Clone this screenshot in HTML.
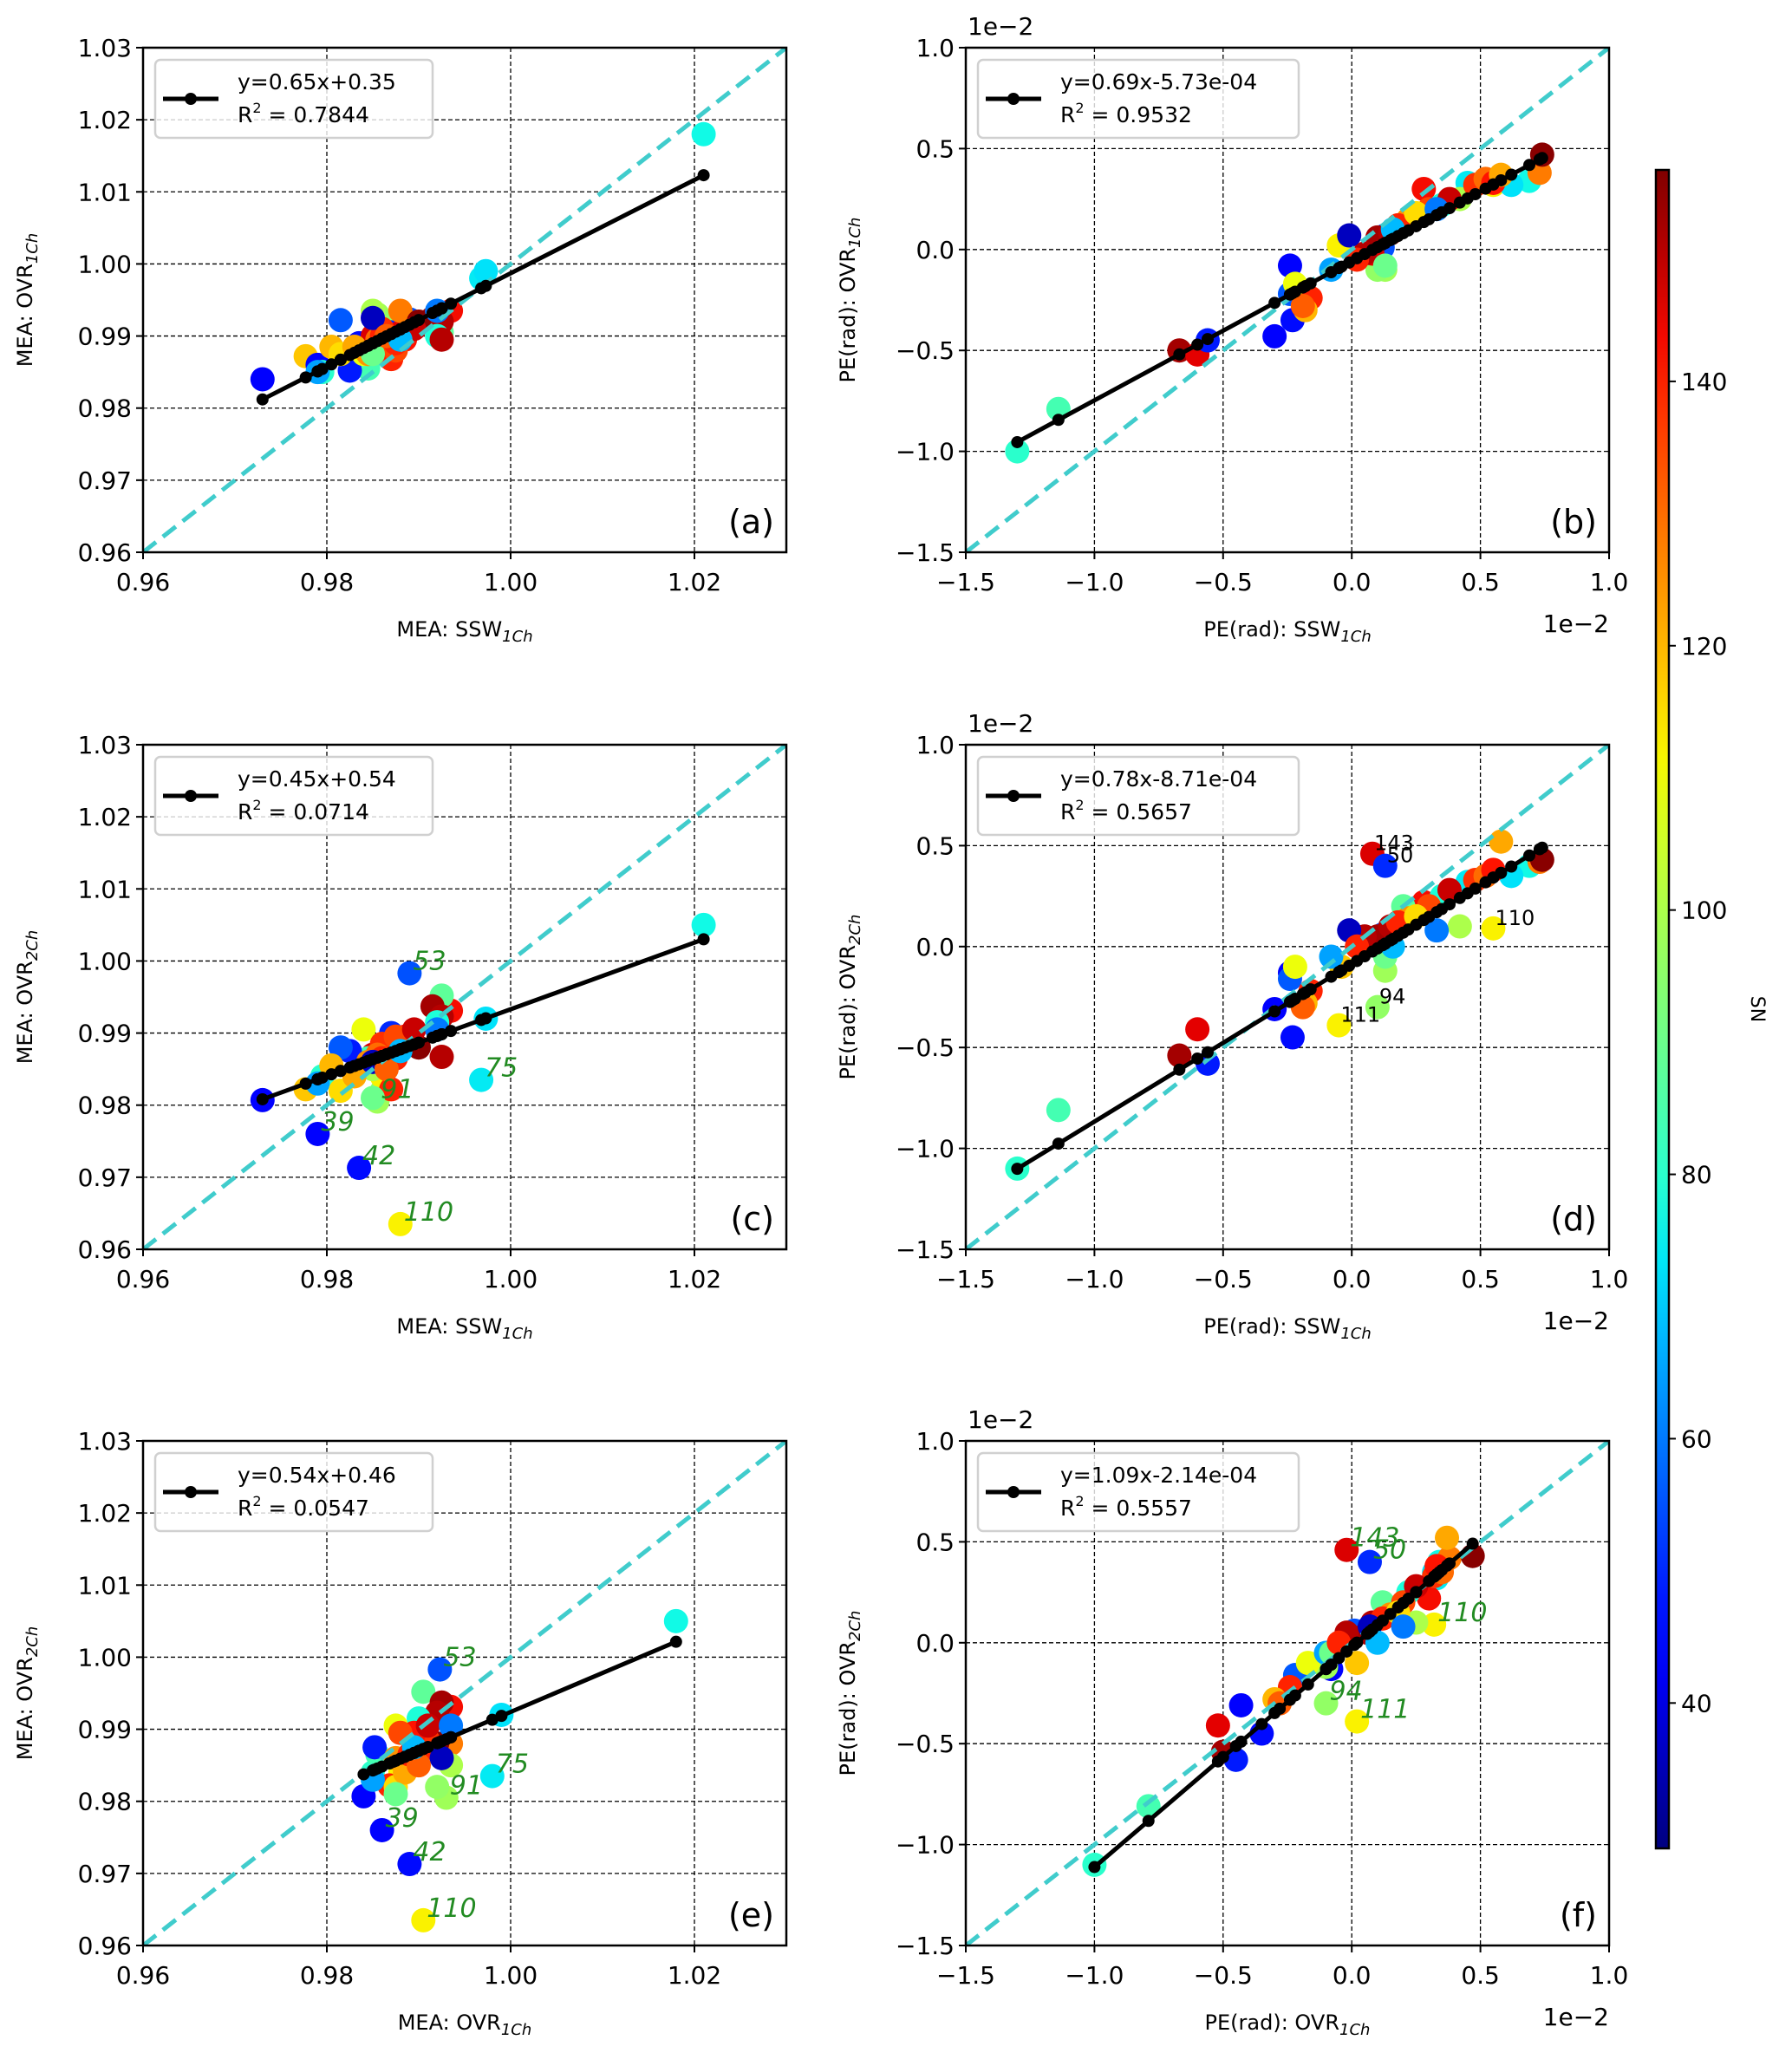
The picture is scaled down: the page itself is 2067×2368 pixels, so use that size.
<!DOCTYPE html>
<html><head><meta charset="utf-8"><style>
html,body{margin:0;padding:0;background:#fff;}
svg{display:block;font-family:"DejaVu Sans","Liberation Sans",sans-serif;}
</style></head><body>
<svg id="fig" width="2067" height="2368" viewBox="0 0 2067 2368" xmlns="http://www.w3.org/2000/svg">
<defs><linearGradient id="jetg" x1="0" y1="1" x2="0" y2="0"></linearGradient></defs>
</svg>
<script>
// Station data: SN, MEA SSW1Ch, MEA OVR1Ch, MEA OVR2Ch, PE SSW1Ch, PE OVR1Ch, PE OVR2Ch (PE in 1e-2 units)
const stationSN = [76,44,118,45,46,112,55,74,98,96,146,50,112,80,84,152,145,48,56,73,143,88,140,152,150,78,110,150,120,128,155,100,138,130,142,135,125,140,65,115,148,122,90,60,36,140,132,68];
const meaSSW  = [1.021,0.973,0.9777,0.979,0.9835,0.988,0.989,0.9968,0.9855,0.986,0.985,0.987,0.986,0.9795,0.9845,0.9865,0.988,0.9825,0.9815,0.9973,0.9935,0.9925,0.987,0.9915,0.9925,0.992,0.984,0.9925,0.9805,0.988,0.990,0.985,0.986,0.9855,0.9885,0.9875,0.9845,0.986,0.979,0.9815,0.9895,0.983,0.985,0.992,0.985,0.9875,0.9865,0.988];
const meaOVR1 = [1.018,0.984,0.9872,0.986,0.989,0.9905,0.9923,0.998,0.993,0.992,0.990,0.9905,0.988,0.985,0.9855,0.9895,0.9905,0.9852,0.9922,0.999,0.9935,0.9905,0.9868,0.9925,0.992,0.990,0.9875,0.9895,0.9885,0.9935,0.992,0.9935,0.991,0.9895,0.9895,0.988,0.9875,0.990,0.985,0.9875,0.991,0.9885,0.9875,0.9935,0.9925,0.989,0.990,0.9895];
const meaOVR2 = [1.005,0.9807,0.9822,0.976,0.9713,0.9635,0.9983,0.9835,0.9805,0.982,0.987,0.990,0.984,0.984,0.9865,0.9868,0.9885,0.9875,0.988,0.992,0.9931,0.9952,0.9822,0.9937,0.9923,0.9915,0.9905,0.9867,0.9855,0.988,0.988,0.985,0.9885,0.987,0.9895,0.9895,0.986,0.9865,0.983,0.982,0.9905,0.984,0.981,0.9905,0.986,0.9865,0.985,0.9875];
const peSSW   = [0.69,-0.30,-0.04,-0.24,-0.23,0.55,0.12,0.45,0.13,0.10,0.08,0.13,-0.05,-1.30,-1.14,-0.67,-0.60,-0.56,-0.24,0.62,0.28,0.20,-0.16,0.10,0.15,0.35,-0.22,0.05,-0.18,0.73,0.74,0.42,0.48,0.52,0.55,0.30,0.22,0.18,-0.08,0.25,0.38,0.58,0.13,0.33,-0.01,0.02,-0.19,0.16];
const peOVR1  = [0.34,-0.43,0.02,-0.08,-0.35,0.32,0.01,0.33,-0.10,-0.10,-0.02,0.07,0.02,-1.00,-0.79,-0.50,-0.52,-0.45,-0.22,0.32,0.30,0.12,-0.24,0.06,0.08,0.22,-0.17,-0.02,-0.30,0.38,0.47,0.25,0.32,0.35,0.33,0.20,0.15,0.12,-0.10,0.18,0.25,0.37,-0.08,0.20,0.07,-0.05,-0.28,0.10];
const peOVR2  = [0.40,-0.31,-0.10,-0.13,-0.45,0.09,0.06,0.32,-0.12,-0.30,0.46,0.40,-0.39,-1.10,-0.81,-0.54,-0.41,-0.58,-0.16,0.35,0.22,0.20,-0.22,0.05,0.10,0.25,-0.10,0.05,-0.28,0.42,0.43,0.10,0.33,0.35,0.38,0.20,0.14,0.12,-0.05,0.15,0.28,0.52,-0.05,0.08,0.08,0.00,-0.30,0.00];
const stationIdx = {s53:6,s75:7,s91:8,s39:3,s42:4,s110:5,s143:10,s50:11,s94:9,s111:12};
// Fit parameters per panel a-f
const fitSlopes     = [0.648,0.69,0.4625,0.78,0.541,1.09];
const fitIntercepts = [0.3507,-0.0573,0.5308,-0.0871,0.4514,-0.0214];
const fitEqText = ["y=0.65x+0.35","y=0.69x-5.73e-04","y=0.45x+0.54","y=0.78x-8.71e-04","y=0.54x+0.46","y=1.09x-2.14e-04"];
const fitR2Text = ["0.7844","0.9532","0.0714","0.5657","0.0547","0.5557"];
const meaTicksX = [0.96,0.98,1.00,1.02];
const meaTicksY = [0.96,0.97,0.98,0.99,1.00,1.01,1.02,1.03];
const peTicks = [-1.5,-1.0,-0.5,0.0,0.5,1.0];
const cbTicks = [40,60,80,100,120,140];
const snMin = 29, snMax = 156;

const NS="http://www.w3.org/2000/svg";
const svg=document.getElementById('fig');
function mk(tag,attrs,parent){const e=document.createElementNS(NS,tag);for(const k in attrs)e.setAttribute(k,attrs[k]);(parent||svg).appendChild(e);return e;}
function jet(v){
  const t=Math.max(0,Math.min(1,(v-snMin)/(snMax-snMin)));
  function pw(pts){for(let i=1;i<pts.length;i++){if(t<=pts[i][0]){const a=pts[i-1],b=pts[i];return a[1]+(b[1]-a[1])*(t-a[0])/(b[0]-a[0]);}}return pts[pts.length-1][1];}
  const r=pw([[0,0],[0.35,0],[0.66,1],[0.89,1],[1,0.5]]);
  const g=pw([[0,0],[0.125,0],[0.375,1],[0.64,1],[0.91,0],[1,0]]);
  const b=pw([[0,0.5],[0.11,1],[0.34,1],[0.65,0],[1,0]]);
  return `rgb(${Math.round(r*255)},${Math.round(g*255)},${Math.round(b*255)})`;
}
function fmtPE(v){return (v<0?'\u2212':'')+Math.abs(v).toFixed(1);}

const W=742,H=582;
const panels=[
 {id:'a',L:165,T:55,type:'mea',xs:meaSSW,ys:meaOVR1,xl:['MEA: SSW','1Ch'],yl:['MEA: OVR','1Ch'],ann:null},
 {id:'b',L:1114,T:55,type:'pe',xs:peSSW,ys:peOVR1,xl:['PE(rad): SSW','1Ch'],yl:['PE(rad): OVR','1Ch'],ann:null},
 {id:'c',L:165,T:859,type:'mea',xs:meaSSW,ys:meaOVR2,xl:['MEA: SSW','1Ch'],yl:['MEA: OVR','2Ch'],ann:{style:'green',keys:[['53','s53'],['75','s75'],['91','s91'],['39','s39'],['42','s42'],['110','s110']]}},
 {id:'d',L:1114,T:859,type:'pe',xs:peSSW,ys:peOVR2,xl:['PE(rad): SSW','1Ch'],yl:['PE(rad): OVR','2Ch'],ann:{style:'black',keys:[['143','s143'],['50','s50'],['110','s110'],['94','s94'],['111','s111']]}},
 {id:'e',L:165,T:1662,type:'mea',xs:meaOVR1,ys:meaOVR2,xl:['MEA: OVR','1Ch'],yl:['MEA: OVR','2Ch'],ann:{style:'green',keys:[['53','s53'],['75','s75'],['91','s91'],['39','s39'],['42','s42'],['110','s110']]}},
 {id:'f',L:1114,T:1662,type:'pe',xs:peOVR1,ys:peOVR2,xl:['PE(rad): OVR','1Ch'],yl:['PE(rad): OVR','2Ch'],ann:{style:'green',keys:[['143','s143'],['50','s50'],['110','s110'],['94','s94'],['111','s111']]}}
];

panels.forEach((p,pi)=>{
  const dom = p.type==='mea'?[0.96,1.03]:[-1.5,1.0];
  const sx=v=>p.L+(v-dom[0])/(dom[1]-dom[0])*W;
  const sy=v=>p.T+H-(v-dom[0])/(dom[1]-dom[0])*H;
  const g=mk('g',{});
  
  
  const cid='clip'+p.id;
  const cp=mk('clipPath',{id:cid},g);mk('rect',{x:p.L,y:p.T,width:W,height:H},cp);
  const tx=p.type==='mea'?meaTicksX:peTicks, ty=p.type==='mea'?meaTicksY:peTicks;
  tx.forEach(v=>{const l=mk('line',{x1:sx(v),x2:sx(v),y1:p.T,y2:p.T+H,stroke:'#000','stroke-width':1.3,'stroke-dasharray':'5,3'},g);
    
    });
  ty.forEach(v=>{const l=mk('line',{x1:p.L,x2:p.L+W,y1:sy(v),y2:sy(v),stroke:'#000','stroke-width':1.3,'stroke-dasharray':'5,3'},g);
    
    });
  const cg=mk('g',{'clip-path':`url(#${cid})`},g);
  p.xs.forEach((xv,i)=>{const c=mk('circle',{cx:sx(xv),cy:sy(p.ys[i]),r:14,fill:jet(stationSN[i])},cg);
    
    });
  const d=mk('line',{x1:sx(dom[0]),y1:sy(dom[0]),x2:sx(dom[1]),y2:sy(dom[1]),stroke:'#40cccc','stroke-width':5,'stroke-dasharray':'19,10'},cg);
  
  
  const m=fitSlopes[pi],b=fitIntercepts[pi];
  const xsSorted=p.xs.slice().sort((a,c)=>a-c);
  const pts=xsSorted.map(v=>sx(v)+','+sy(m*v+b)).join(' ');
  const fl=mk('polyline',{points:pts,fill:'none',stroke:'#000','stroke-width':5},cg);
  
  
  xsSorted.forEach(v=>{const c=mk('circle',{cx:sx(v),cy:sy(m*v+b),r:7,fill:'#000'},cg);
    
    });
  if(p.ann){p.ann.keys.forEach(k=>{const i=stationIdx[k[1]];
    const t=mk('text',{x:sx(p.xs[i])+(p.ann.style==='green'?4:2),y:sy(p.ys[i])-4,'font-size':p.ann.style==='green'?30:24,fill:p.ann.style==='green'?'#228b22':'#000','font-style':p.ann.style==='green'?'italic':'normal'},g);
    t.textContent=k[0];
    
    });}
  const fr=mk('rect',{x:p.L,y:p.T,width:W,height:H,fill:'none',stroke:'#000','stroke-width':2.5},g);
  
  
  tx.forEach(v=>{mk('line',{x1:sx(v),x2:sx(v),y1:p.T+H,y2:p.T+H+8,stroke:'#000','stroke-width':2},g);
    const t=mk('text',{x:sx(v),y:p.T+H+44,'font-size':28,'text-anchor':'middle'},g);
    t.textContent=p.type==='mea'?v.toFixed(2):fmtPE(v);
    
    });
  ty.forEach(v=>{mk('line',{x1:p.L-8,x2:p.L,y1:sy(v),y2:sy(v),stroke:'#000','stroke-width':2},g);
    const t=mk('text',{x:p.L-13,y:sy(v)+10,'font-size':28,'text-anchor':'end'},g);
    t.textContent=p.type==='mea'?v.toFixed(2):fmtPE(v);
    
    });
  if(p.type==='pe'){
    const o1=mk('text',{x:p.L+2,y:p.T-15,'font-size':28},g);o1.textContent='1e\u22122';
    
    
    const o2=mk('text',{x:p.L+W,y:p.T+H+92,'font-size':28,'text-anchor':'end'},g);o2.textContent='1e\u22122';
    
    
  }
  const xl=mk('text',{x:p.L+W/2,y:p.T+H+97,'font-size':24,'text-anchor':'middle'},g);
  xl.innerHTML=`${p.xl[0]}<tspan font-size="18" font-style="italic" dy="6">${p.xl[1]}</tspan>`;
  
  
  const yl=mk('text',{x:0,y:0,'font-size':24,'text-anchor':'middle',transform:`translate(${p.L-128},${p.T+H/2}) rotate(-90)`},g);
  yl.innerHTML=`${p.yl[0]}<tspan font-size="18" font-style="italic" dy="6">${p.yl[1]}</tspan>`;
  
  
  const pl=mk('text',{x:p.L+W-14,y:p.T+H-22,'font-size':38,'text-anchor':'end'},g);
  pl.textContent='('+p.id+')';
  
  
  const lw=p.type==='mea'?320:370;
  const lg=mk('g',{},g);
  
  
  mk('rect',{x:p.L+14,y:p.T+14,width:lw,height:90,rx:6,fill:'rgba(255,255,255,0.8)',stroke:'#d0d0d0','stroke-width':2.5},lg);
  mk('line',{x1:p.L+23,x2:p.L+87,y1:p.T+59,y2:p.T+59,stroke:'#000','stroke-width':5},lg);
  mk('circle',{cx:p.L+55,cy:p.T+59,r:7,fill:'#000'},lg);
  const l1=mk('text',{x:p.L+109,y:p.T+48,'font-size':25},lg);l1.textContent=fitEqText[pi];
  
  
  const l2=mk('text',{x:p.L+109,y:p.T+86,'font-size':25},lg);
  l2.innerHTML=`R<tspan font-size="16" dy="-11">2</tspan><tspan dy="11"> = ${fitR2Text[pi]}</tspan>`;
  
  
});

const grad=document.getElementById('jetg');
for(let i=0;i<=20;i++){const v=snMin+(snMax-snMin)*i/20;mk('stop',{offset:(i/20),'stop-color':jet(v)},grad);}
const cbT=196,cbB=2132,cbL=1910,cbW=15;
const cby=v=>cbB-(v-snMin)/(snMax-snMin)*(cbB-cbT);
const cb=mk('g',{});


mk('rect',{x:cbL,y:cbT,width:cbW,height:cbB-cbT,fill:'url(#jetg)',stroke:'#000','stroke-width':2.5},cb);
cbTicks.forEach(v=>{mk('line',{x1:cbL+cbW,x2:cbL+cbW+8,y1:cby(v),y2:cby(v),stroke:'#000','stroke-width':2},cb);
  const t=mk('text',{x:cbL+cbW+14,y:cby(v)+10,'font-size':28},cb);t.textContent=v;
  
  });
const sn=mk('text',{x:0,y:0,'font-size':22,'text-anchor':'middle',transform:'translate(2020,1164) rotate(90)'},cb);
sn.textContent='SN';


</script>
</body></html>
